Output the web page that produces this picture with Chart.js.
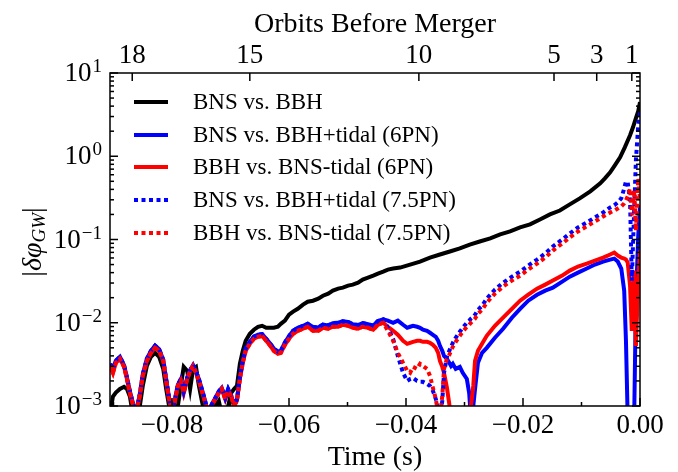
<!DOCTYPE html>
<html>
<head>
<meta charset="utf-8">
<script src="https://cdn.jsdelivr.net/npm/chart.js@4.4.0/dist/chart.umd.min.js"></script>
<style>
  body { margin: 0; background: #fff; }
  canvas { display: block; }
</style>
</head>
<body>
<canvas id="gwChart" width="678" height="472"></canvas>
<script>
// ----- data -----
// time grid for the early part (shared by all red/blue curves and the black one)
const tEarly = [-0.0906, -0.0901, -0.0896, -0.0889, -0.0882, -0.0877, -0.0872, -0.0867, -0.0862, -0.0855,
    -0.0850, -0.0843, -0.0836, -0.0829, -0.0822, -0.0815, -0.0810, -0.0805, -0.0800, -0.0795,
    -0.0790, -0.0785, -0.0780, -0.0774, -0.0769, -0.0764, -0.0759, -0.0754, -0.0749, -0.0744,
    -0.0738, -0.0732, -0.0726, -0.0720, -0.0715, -0.0709, -0.0704, -0.0699, -0.0694, -0.0689,
    -0.0684, -0.0679, -0.0674, -0.0667, -0.0660, -0.0653, -0.0646, -0.0639, -0.0632, -0.0626,
    -0.0619, -0.0614, -0.0607, -0.0600, -0.0593, -0.0585, -0.0576, -0.0568, -0.0559, -0.0550,
    -0.0542, -0.0533, -0.0525, -0.0516, -0.0508, -0.0499, -0.0491, -0.0482, -0.0474, -0.0465,
    -0.0456, -0.0448, -0.0439];

const vBlackEarly = [8e-4, 1.3e-3, 1.45e-3, 1.6e-3, 1.7e-3, 1.6e-3, 1.3e-3, 8e-4, 8e-4, 1.0e-3,
    1.74e-3, 3.03e-3, 3.9e-3, 4.35e-3, 3.9e-3, 2.79e-3, 1.6e-3, 1.0e-3, 8e-4, 8e-4,
    1.0e-3, 1.74e-3, 2.95e-3, 2.64e-3, 1.6e-3, 2.79e-3, 2.95e-3, 1.74e-3, 1.15e-3, 8e-4,
    8e-4, 8e-4, 1.0e-3, 1.15e-3, 8e-4, 8e-4, 1.0e-3, 1.43e-3, 1.6e-3, 1.74e-3,
    3.21e-3, 4.6e-3, 6.07e-3, 7.37e-3, 8.24e-3, 8.95e-3, 9.2e-3, 8.7e-3, 8.7e-3, 8.7e-3,
    8.95e-3, 9.7e-3, 1.06e-2, 1.25e-2, 1.36e-2, 1.47e-2, 1.65e-2, 1.79e-2, 1.84e-2, 1.95e-2,
    2.11e-2, 2.24e-2, 2.43e-2, 2.57e-2, 2.64e-2, 2.79e-2, 2.87e-2, 3.03e-2, 3.3e-2, 3.48e-2,
    3.68e-2, 3.89e-2, 4.11e-2];

const vBlueEarly = [3.2e-3, 2.8e-3, 3.5e-3, 3.9e-3, 3.1e-3, 2.2e-3, 1.5e-3, 1.1e-3, 8e-4, 1.4e-3,
    2.4e-3, 3.7e-3, 4.6e-3, 5.3e-3, 4.8e-3, 3.6e-3, 2.1e-3, 1.25e-3, 8e-4, 1.2e-3,
    1.8e-3, 2.1e-3, 1.5e-3, 2.2e-3, 2.7e-3, 3.1e-3, 2.6e-3, 2.1e-3, 1.6e-3, 1.2e-3,
    8e-4, 1.05e-3, 1.25e-3, 1.5e-3, 1.65e-3, 1.25e-3, 1.6e-3, 1.35e-3, 1.05e-3, 1.2e-3,
    2.2e-3, 3.5e-3, 4.9e-3, 5.9e-3, 6.8e-3, 7.2e-3, 7.3e-3, 6.4e-3, 5.6e-3, 4.9e-3,
    4.5e-3, 4.6e-3, 5.8e-3, 6.9e-3, 8.0e-3, 8.7e-3, 9.2e-3, 9.7e-3, 8.9e-3, 8.8e-3,
    9.5e-3, 9.3e-3, 9.9e-3, 1.0e-2, 1.04e-2, 1.02e-2, 9.6e-3, 9.4e-3, 9.9e-3, 9.6e-3,
    9.2e-3, 1.05e-2, 1.1e-2];

const vRedEarly = [3.03e-3, 2.5e-3, 3.3e-3, 3.68e-3, 2.95e-3, 2.11e-3, 1.43e-3, 1.06e-3, 8e-4, 1.32e-3,
    2.3e-3, 3.48e-3, 4.35e-3, 5.0e-3, 4.6e-3, 3.48e-3, 2.0e-3, 1.21e-3, 8e-4, 1.15e-3,
    1.74e-3, 2.0e-3, 1.43e-3, 2.11e-3, 2.64e-3, 3.03e-3, 2.5e-3, 2.0e-3, 1.52e-3, 1.15e-3,
    8e-4, 1.03e-3, 1.21e-3, 1.43e-3, 1.6e-3, 1.21e-3, 1.52e-3, 1.32e-3, 1.0e-3, 1.15e-3,
    2.11e-3, 3.3e-3, 4.6e-3, 5.58e-3, 6.41e-3, 6.78e-3, 6.97e-3, 6.07e-3, 5.28e-3, 4.6e-3,
    4.23e-3, 4.35e-3, 5.43e-3, 6.41e-3, 7.37e-3, 8.0e-3, 8.47e-3, 8.95e-3, 8.0e-3, 8.0e-3,
    8.7e-3, 8.47e-3, 8.95e-3, 8.95e-3, 9.46e-3, 9.2e-3, 8.7e-3, 8.47e-3, 8.95e-3, 8.7e-3,
    8.24e-3, 9.46e-3, 1.0e-2];

// black curve, late part
const tBlackLate = [-0.0431, -0.0422, -0.0410, -0.0393, -0.0376, -0.0359, -0.0342, -0.0325, -0.0308, -0.0291,
    -0.0274, -0.0256, -0.0239, -0.0222, -0.0205, -0.0188, -0.0171, -0.0154, -0.0137, -0.0120,
    -0.0103, -0.0085, -0.0068, -0.0060, -0.0051, -0.0043, -0.0034, -0.0026, -0.0017, -0.0012,
    -0.0007, -0.0003, 0];
const vBlackLate = [4.35e-2, 4.48e-2, 4.6e-2, 5.0e-2, 5.43e-2, 6.07e-2, 6.6e-2, 7.17e-2, 7.8e-2, 8.7e-2,
    9.46e-2, 0.103, 0.115, 0.125, 0.140, 0.152, 0.174, 0.200, 0.223, 0.264,
    0.312, 0.379, 0.473, 0.543, 0.641, 0.779, 0.973, 1.28, 1.79, 2.23,
    2.87, 3.48, 4.48];

// late time grid for the tidal comparisons
const tLate = [-0.0431, -0.0422, -0.0414, -0.0405, -0.0398, -0.0393, -0.0388, -0.0381, -0.0376, -0.0371,
    -0.0364, -0.0359, -0.0354, -0.0349, -0.0345, -0.0342, -0.0338, -0.0335, -0.0330, -0.0326,
    -0.0323, -0.0320, -0.0315, -0.0308, -0.0303, -0.0296, -0.0292, -0.0289, -0.0285, -0.0282,
    -0.0277, -0.0270, -0.0262, -0.0248, -0.0234, -0.0219, -0.0205, -0.0191, -0.0176, -0.0162,
    -0.0149, -0.0133, -0.0120, -0.0106, -0.0091, -0.0077, -0.0063, -0.0051, -0.0044, -0.0038,
    -0.0032, -0.0027, -0.0024, -0.0021, -0.0017, -0.0014, -0.0010, -0.0007, -0.0003, 0];

const vBlue6Late = [1.06e-2, 1.0e-2, 1.06e-2, 9.46e-3, 8.7e-3, 8.95e-3, 9.2e-3, 8.95e-3, 8.7e-3, 8.24e-3,
    8.0e-3, 7.58e-3, 7.17e-3, 6.78e-3, 6.07e-3, 5.28e-3, 4.6e-3, 4.0e-3, 3.68e-3, 3.3e-3,
    3.03e-3, 3.21e-3, 2.79e-3, 2.95e-3, 2.5e-3, 2.11e-3, 1.43e-3, 7e-4, 1.0e-3, 1.6e-3,
    3.3e-3, 4.35e-3, 5.0e-3, 6.6e-3, 8.47e-3, 1.15e-2, 1.47e-2, 1.84e-2, 2.17e-2, 2.43e-2,
    2.64e-2, 3.12e-2, 3.58e-2, 4.0e-2, 4.48e-2, 5.0e-2, 5.43e-2, 5.74e-2, 5.9e-2, 5.43e-2,
    4.48e-2, 2.43e-2, 6.07e-3, 7e-4, 7e-4, 7e-4, 7e-4, 1.84e-2, 0.112, 0.257];

const vRed6Late = [8.95e-3, 8.0e-3, 7.17e-3, 6.07e-3, 5.58e-3, 5.74e-3, 5.9e-3, 6.07e-3, 6.07e-3, 5.9e-3,
    5.9e-3, 5.74e-3, 5.43e-3, 5.0e-3, 4.35e-3, 3.48e-3, 2.95e-3, 2.5e-3, 1.65e-3, 1.06e-3,
    7e-4, 7e-4, 7e-4, 7e-4, 7e-4, 7e-4, 7e-4, 1.0e-3, 1.74e-3, 3.48e-3,
    4.6e-3, 5.58e-3, 6.97e-3, 9.2e-3, 1.15e-2, 1.47e-2, 1.84e-2, 2.17e-2, 2.57e-2, 2.87e-2,
    3.21e-2, 3.68e-2, 4.23e-2, 4.73e-2, 5.14e-2, 5.58e-2, 6.07e-2, 6.6e-2, 6.97e-2, 6.41e-2,
    6.07e-2, 5.9e-2, 5.74e-2, 5.28e-2, 2.79e-2, 8.0e-3, 4.23e-2, 5.28e-3, 3.21e-2, 7.37e-2];

const vBlue75Late = [8.7e-3, 6.41e-3, 4.0e-3, 2.5e-3, 2.0e-3, 2.11e-3, 2.17e-3, 2.0e-3, 1.95e-3, 1.95e-3,
    1.84e-3, 1.74e-3, 1.52e-3, 1.21e-3, 9.2e-4, 7e-4, 1.15e-3, 2.5e-3, 3.89e-3, 4.6e-3,
    5.14e-3, 5.74e-3, 6.6e-3, 7.8e-3, 8.7e-3, 1.0e-2, 1.06e-2, 1.12e-2, 1.18e-2, 1.25e-2,
    1.43e-2, 1.6e-2, 1.95e-2, 2.5e-2, 3.03e-2, 3.58e-2, 4.11e-2, 4.86e-2, 5.74e-2, 6.78e-2,
    8.24e-2, 0.100, 0.118, 0.140, 0.160, 0.184, 0.211, 0.243, 0.257, 0.279,
    0.312, 0.411, 0.500, 0.486, 0.295, 3.21e-2, 0.223, 0.895, 2.36, 3.39];

const vRed75Late = [8.0e-3, 6.07e-3, 4.35e-3, 3.3e-3, 2.64e-3, 2.5e-3, 2.95e-3, 2.79e-3, 3.21e-3, 3.03e-3,
    2.79e-3, 2.3e-3, 1.65e-3, 1.21e-3, 8e-4, 7e-4, 1.32e-3, 2.79e-3, 3.68e-3, 4.11e-3,
    4.6e-3, 5.14e-3, 5.9e-3, 6.97e-3, 7.8e-3, 8.95e-3, 9.46e-3, 1.0e-2, 1.06e-2, 1.12e-2,
    1.28e-2, 1.43e-2, 1.74e-2, 2.24e-2, 2.72e-2, 3.21e-2, 3.68e-2, 4.35e-2, 5.14e-2, 6.07e-2,
    7.37e-2, 8.95e-2, 0.106, 0.125, 0.144, 0.165, 0.189, 0.211, 0.223, 0.236,
    0.250, 0.272, 0.295, 0.330, 0.411, 0.195, 0.389, 0.128, 0.543, 0.295];

// axes
const xMajor = [-0.08, -0.06, -0.04, -0.02, 0];
const xMinor = [-0.09, -0.07, -0.05, -0.03, -0.01];
const yDecades = [1e-3, 1e-2, 1e-1, 1, 10];
const yExponents = ['\u22123', '\u22122', '\u22121', '0', '1'];
const orbitTimes = [-0.0868, -0.0667, -0.0378, -0.0147, -0.0074, -0.0014];
const orbitLabels = ['18', '15', '10', '5', '3', '1'];

const FONT = "'Liberation Serif', 'Times New Roman', serif";

function pts(ts, vs) {
    return ts.map((t, i) => ({ x: t, y: vs[i] }));
}

function series(label, ts, vs, color, dashed, order) {
    return {
        label: label,
        data: pts(ts, vs),
        borderColor: color,
        borderWidth: 4,
        borderDash: dashed ? [4, 3.5] : [],
        borderCapStyle: 'butt',
        pointRadius: 0,
        tension: 0,
        fill: false,
        clip: 0,
        order: order
    };
}

const datasets = [
    series('BNS vs. BBH', tEarly.concat(tBlackLate), vBlackEarly.concat(vBlackLate), '#000000', false, 5),
    series('BNS vs. BBH+tidal (6PN)', tEarly.concat(tLate), vBlueEarly.concat(vBlue6Late), '#0000ff', false, 4),
    series('BBH vs. BNS-tidal (6PN)', tEarly.concat(tLate), vRedEarly.concat(vRed6Late), '#ff0000', false, 3),
    series('BNS vs. BBH+tidal (7.5PN)', tEarly.concat(tLate), vBlueEarly.concat(vBlue75Late), '#0000ff', true, 2),
    series('BBH vs. BNS-tidal (7.5PN)', tEarly.concat(tLate), vRedEarly.concat(vRed75Late), '#ff0000', true, 1)
];

// ----- frame, inward ticks, y labels, y title, legend -----
const decorPlugin = {
    id: 'decor',
    afterDatasetsDraw(chart) {
        const ctx = chart.ctx;
        const a = chart.chartArea;
        const xs = chart.scales.x, ys = chart.scales.y, xt = chart.scales.xTop;
        ctx.save();
        ctx.strokeStyle = '#000';
        ctx.lineWidth = 1.5;

        function seg(x1, y1, x2, y2) {
            ctx.beginPath(); ctx.moveTo(x1, y1); ctx.lineTo(x2, y2); ctx.stroke();
        }

        // bottom ticks
        xMajor.forEach(v => { const px = xs.getPixelForValue(v); seg(px, a.bottom, px, a.bottom - 8); });
        xMinor.forEach(v => { const px = xs.getPixelForValue(v); seg(px, a.bottom, px, a.bottom - 4); });
        // top (orbit) ticks
        orbitTimes.forEach(v => { const px = xt.getPixelForValue(v); seg(px, a.top, px, a.top + 8); });
        // y ticks, both sides
        yDecades.forEach((d, i) => {
            const py = ys.getPixelForValue(d);
            seg(a.left, py, a.left + 8, py);
            seg(a.right, py, a.right - 8, py);
            if (i < yDecades.length - 1) {
                for (let m = 2; m <= 9; m++) {
                    const pm = ys.getPixelForValue(m * d);
                    seg(a.left, pm, a.left + 4, pm);
                    seg(a.right, pm, a.right - 4, pm);
                }
            }
        });
        ctx.strokeRect(a.left, a.top, a.right - a.left, a.bottom - a.top);

        // y tick labels 10^n
        ctx.fillStyle = '#000';
        yDecades.forEach((d, i) => {
            const py = ys.getPixelForValue(d);
            const xr = a.left - 8;
            ctx.font = '19px ' + FONT;
            ctx.textAlign = 'right';
            ctx.textBaseline = 'alphabetic';
            const ew = ctx.measureText(yExponents[i]).width;
            ctx.fillText(yExponents[i], xr, py - 1);
            ctx.font = '27px ' + FONT;
            ctx.textBaseline = 'middle';
            ctx.fillText('10', xr - ew - 1, py + 1);
        });

        // y axis title |δφ_GW|
        ctx.save();
        ctx.translate(34, 242);
        ctx.rotate(-Math.PI / 2);
        const parts = [
            { t: '|', f: '28px ' + FONT, dy: 0 },
            { t: '\u03b4\u03c6', f: 'italic 28px ' + FONT, dy: 0 },
            { t: 'GW', f: 'italic 19px ' + FONT, dy: 6 },
            { t: '|', f: '28px ' + FONT, dy: 0 }
        ];
        let total = 0;
        parts.forEach(p => { ctx.font = p.f; p.w = ctx.measureText(p.t).width; total += p.w; });
        let cx = -total / 2;
        ctx.textAlign = 'left';
        ctx.textBaseline = 'middle';
        parts.forEach(p => { ctx.font = p.f; ctx.fillText(p.t, cx, p.dy); cx += p.w; });
        ctx.restore();

        // legend
        const rowY = [102, 135, 167, 200, 233];
        chart.data.datasets.forEach((ds, i) => {
            ctx.strokeStyle = ds.borderColor;
            ctx.lineWidth = 4;
            ctx.lineCap = 'butt';
            ctx.setLineDash(ds.borderDash || []);
            seg(134, rowY[i], 168, rowY[i]);
            ctx.setLineDash([]);
            ctx.fillStyle = '#000';
            ctx.font = '23px ' + FONT;
            ctx.textAlign = 'left';
            ctx.textBaseline = 'middle';
            ctx.fillText(ds.label, 193, rowY[i] + 1);
        });
        ctx.restore();
    }
};

const ctx = document.getElementById('gwChart').getContext('2d');
const chart = new Chart(ctx, {
    type: 'line',
    data: { datasets: datasets },
    options: {
        responsive: false,
        animation: false,
        devicePixelRatio: 1,
        layout: { padding: { left: 0, right: 38, top: 0, bottom: 0 } },
        plugins: { legend: { display: false }, tooltip: { enabled: false } },
        scales: {
            x: {
                type: 'linear',
                position: 'bottom',
                min: -0.0906,
                max: 0,
                afterFit: s => { s.height = 66; },
                afterBuildTicks: s => { s.ticks = xMajor.map(v => ({ value: v })); },
                grid: { display: false },
                border: { display: false },
                ticks: {
                    autoSkip: false, maxRotation: 0, minRotation: 0, padding: -4,
                    color: '#000', font: { family: FONT, size: 27 },
                    callback: v => (v === 0 ? '0.00' : '\u2212' + Math.abs(v).toFixed(2))
                },
                title: {
                    display: true, text: 'Time (s)', color: '#000',
                    font: { family: FONT, size: 28, lineHeight: 1 },
                    padding: { top: 0, bottom: 0 }
                }
            },
            xTop: {
                type: 'linear',
                position: 'top',
                min: -0.0906,
                max: 0,
                afterFit: s => { s.height = 73; },
                afterBuildTicks: s => { s.ticks = orbitTimes.map(v => ({ value: v })); },
                grid: { display: false },
                border: { display: false },
                ticks: {
                    autoSkip: false, maxRotation: 0, minRotation: 0, padding: -7,
                    color: '#000', font: { family: FONT, size: 27 },
                    callback: (v, i) => orbitLabels[i]
                },
                title: {
                    display: true, text: 'Orbits Before Merger', color: '#000',
                    font: { family: FONT, size: 28, lineHeight: 1 },
                    padding: { top: 11, bottom: 0 }
                }
            },
            y: {
                type: 'logarithmic',
                min: 1e-3,
                max: 10,
                afterFit: s => { s.width = 110; },
                afterBuildTicks: s => { s.ticks = yDecades.map(v => ({ value: v })); },
                grid: { display: false },
                border: { display: false },
                ticks: { display: false }
            }
        }
    },
    plugins: [decorPlugin]
});
</script>
</body>
</html>
